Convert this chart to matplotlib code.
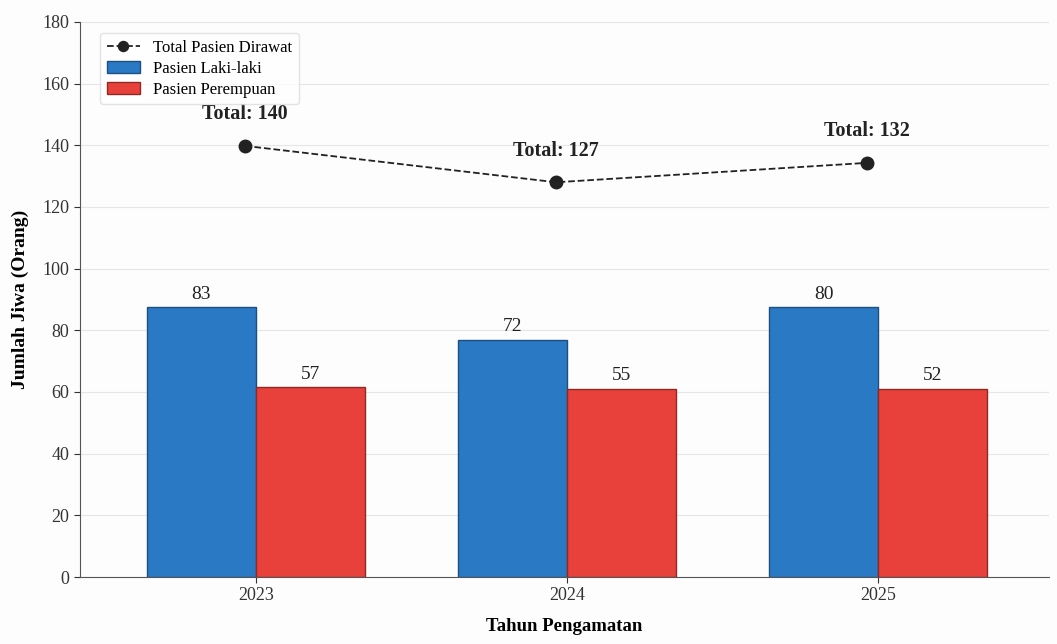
import numpy as np
import matplotlib.pyplot as plt

# ==========================================
# DATA
# ==========================================
years = ["2023", "2024", "2025"]
male_heights = [87.5, 77.0, 87.5]      # drawn bar heights
female_heights = [61.5, 61.0, 61.0]
male_labels = ["83", "72", "80"]
female_labels = ["57", "55", "52"]
total_points = [139.8, 128.0, 134.3]
total_labels = ["Total: 140", "Total: 127", "Total: 132"]

# ==========================================
# STYLE
# ==========================================
plt.rcParams['font.family'] = ['Liberation Serif', 'DejaVu Serif']
blue = '#2a79c4'
red = '#e8413b'

fig = plt.figure(figsize=(10.57, 6.44), dpi=100, facecolor='#fdfdfd')
ax = fig.add_axes([0.0757, 0.104, 0.917, 0.862])
ax.set_facecolor('#fdfdfd')

x = np.arange(len(years))
w = 0.35

b1 = ax.bar(x - w / 2, male_heights, w, color=blue, edgecolor='#1d4f80',
            linewidth=1.0, label='Pasien Laki-laki', zorder=3)
b2 = ax.bar(x + w / 2, female_heights, w, color=red, edgecolor='#8e2a26',
            linewidth=1.0, label='Pasien Perempuan', zorder=3)

for rect, txt in zip(b1, male_labels):
    ax.text(rect.get_x() + rect.get_width() / 2, rect.get_height() + 1.5, txt,
            ha='center', va='bottom', fontsize=14, color='#222222')
for rect, txt in zip(b2, female_labels):
    ax.text(rect.get_x() + rect.get_width() / 2, rect.get_height() + 1.5, txt,
            ha='center', va='bottom', fontsize=14, color='#222222')

# total line
xl = x - 0.035
ax.plot(xl, total_points, '--o', color='#222222', linewidth=1.3,
        markersize=9, label='Total Pasien Dirawat', zorder=4)
for xi, yi, txt in zip(xl, total_points, total_labels):
    ax.text(xi, yi + 7, txt, ha='center', va='bottom', fontsize=14.5,
            fontweight='bold', color='#222222')

# axes
ax.set_ylim(0, 180)
ax.set_xlim(-0.565, 2.55)
ax.set_yticks(np.arange(0, 181, 20))
ax.set_xticks(x)
ax.set_xticklabels(years)
ax.tick_params(axis='both', labelsize=13, colors='#333333', length=4)
ax.grid(axis='y', color='#e6e6e6', linewidth=0.8, zorder=0)
ax.set_axisbelow(True)
for s in ['top', 'right']:
    ax.spines[s].set_visible(False)
for s in ['left', 'bottom']:
    ax.spines[s].set_color('#555555')

ax.set_ylabel('Jumlah Jiwa (Orang)', fontsize=14, fontweight='bold', labelpad=10)
ax.set_xlabel('Tahun Pengamatan', fontsize=13.5, fontweight='bold', labelpad=10)

ax.legend(loc='upper left', bbox_to_anchor=(0.012, 0.995), fontsize=12,
          frameon=True, edgecolor='#dddddd', facecolor='white',
          handlelength=2.0, borderpad=0.4, labelspacing=0.3, markerscale=0.8)

plt.savefig('out.png', dpi=100, facecolor=fig.get_facecolor())
